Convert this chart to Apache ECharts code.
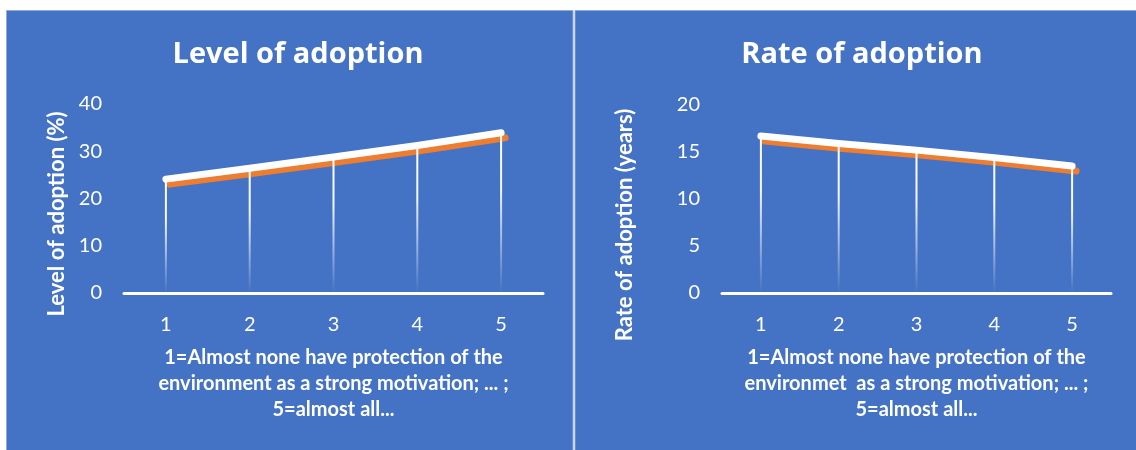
<!DOCTYPE html>
<html>
<head>
<meta charset="utf-8">
<script src="https://cdn.jsdelivr.net/npm/echarts@6/dist/echarts.min.js"></script>
<style>
  html, body { margin: 0; padding: 0; background: #ffffff; }
  #chart { width: 1136px; height: 450px; }
</style>
</head>
<body>
<div id="chart"></div>
<script>
// Motivation score categories (1 = almost none ... 5 = almost all)
const categories = ['1', '2', '3', '4', '5'];

// Level of adoption (%) per category
const levelValues = [24.1, 26.4, 28.8, 31.2, 33.9];

// Rate of adoption (years) per category
const rateValues = [16.7, 15.9, 15.2, 14.4, 13.5];

// Value axis ranges
const levelAxis = { min: 0, max: 40, interval: 10 };
const rateAxis = { min: 0, max: 20, interval: 5 };

const titles = ['Level of adoption', 'Rate of adoption'];
const yNames = ['Level of adoption (%)', 'Rate of adoption (years)'];
const xNames = [
  '1=Almost none have protection of the\nenvironment as a strong motivation; ... ;\n5=almost all...',
  '1=Almost none have protection of the\nenvironmet  as a strong motivation; ... ;\n5=almost all...'
];

const BLUE = '#4472C4';
const ORANGE = '#ED7D31';
const WHITE = '#FFFFFF';
const FONT = 'Lato, "Open Sans", sans-serif';

const chart = echarts.init(document.getElementById('chart'), null, { renderer: 'canvas' });

function dropGradient() {
  return new echarts.graphic.LinearGradient(0, 0, 0, 1, [
    { offset: 0, color: 'rgba(255,255,255,1)' },
    { offset: 0.35, color: 'rgba(255,255,255,0.95)' },
    { offset: 1, color: 'rgba(255,255,255,0)' }
  ]);
}

function xAxisFor(gridIndex, name) {
  return {
    type: 'category',
    gridIndex: gridIndex,
    data: categories,
    boundaryGap: true,
    axisLine: { show: true, lineStyle: { color: WHITE, width: 3 } },
    axisTick: { show: false },
    axisLabel: { color: WHITE, fontFamily: FONT, fontSize: 20, margin: 22 },
    name: name,
    nameLocation: 'middle',
    nameGap: 52,
    nameTextStyle: {
      color: WHITE, fontFamily: FONT, fontWeight: 'bold', fontSize: 20,
      lineHeight: 26, align: 'center'
    },
    splitLine: { show: false }
  };
}

function yAxisFor(gridIndex, range) {
  return {
    type: 'value',
    gridIndex: gridIndex,
    min: range.min,
    max: range.max,
    interval: range.interval,
    axisLine: { show: false },
    axisTick: { show: false },
    splitLine: { show: false },
    axisLabel: { color: WHITE, fontFamily: FONT, fontSize: 20, margin: 22 }
  };
}

function lineSeries(idx, values) {
  return {
    type: 'line',
    xAxisIndex: idx,
    yAxisIndex: idx,
    data: values,
    symbol: 'none',
    z: 3,
    lineStyle: {
      color: WHITE,
      width: 7,
      cap: 'round',
      join: 'round',
      shadowColor: ORANGE,
      shadowBlur: 0,
      shadowOffsetX: 4,
      shadowOffsetY: 5
    },
    silent: true
  };
}

function dropSeries(idx, values) {
  return {
    type: 'bar',
    xAxisIndex: idx,
    yAxisIndex: idx,
    data: values,
    barWidth: 2,
    z: 4,
    itemStyle: { color: dropGradient() },
    silent: true
  };
}

const option = {
  backgroundColor: WHITE,
  animation: false,
  graphic: [
    { type: 'rect', z: -10, shape: { x: 6.5, y: 10.5, width: 566.5, height: 445 },
      style: { fill: BLUE, stroke: '#8FAADC', lineWidth: 1 } },
    { type: 'rect', z: -10, shape: { x: 575, y: 10.5, width: 565, height: 445 },
      style: { fill: BLUE, stroke: '#8FAADC', lineWidth: 1 } },
    { type: 'text', z: 10, x: 57, y: 214, rotation: Math.PI / 2,
      style: { text: yNames[0], fill: WHITE, font: 'bold 22px ' + FONT,
               textAlign: 'center', textVerticalAlign: 'middle' } },
    { type: 'text', z: 10, x: 625, y: 225, rotation: Math.PI / 2,
      style: { text: yNames[1], fill: WHITE, font: 'bold 22px ' + FONT,
               textAlign: 'center', textVerticalAlign: 'middle' } }
  ],
  title: [
    { text: titles[0], left: 293, top: 35, textAlign: 'center',
      textStyle: { color: WHITE, fontFamily: '"Open Sans", sans-serif', fontWeight: 'bold', fontSize: 29 } },
    { text: titles[1], left: 857, top: 35, textAlign: 'center',
      textStyle: { color: WHITE, fontFamily: '"Open Sans", sans-serif', fontWeight: 'bold', fontSize: 29 } }
  ],
  grid: [
    { left: 124, top: 104, width: 419, height: 189, containLabel: false },
    { left: 722, top: 105, width: 389, height: 188, containLabel: false }
  ],
  xAxis: [xAxisFor(0, xNames[0]), xAxisFor(1, xNames[1])],
  yAxis: [yAxisFor(0, levelAxis), yAxisFor(1, rateAxis)],
  series: [
    lineSeries(0, levelValues),
    dropSeries(0, levelValues),
    lineSeries(1, rateValues),
    dropSeries(1, rateValues)
  ]
};

chart.setOption(option);
</script>
</body>
</html>
